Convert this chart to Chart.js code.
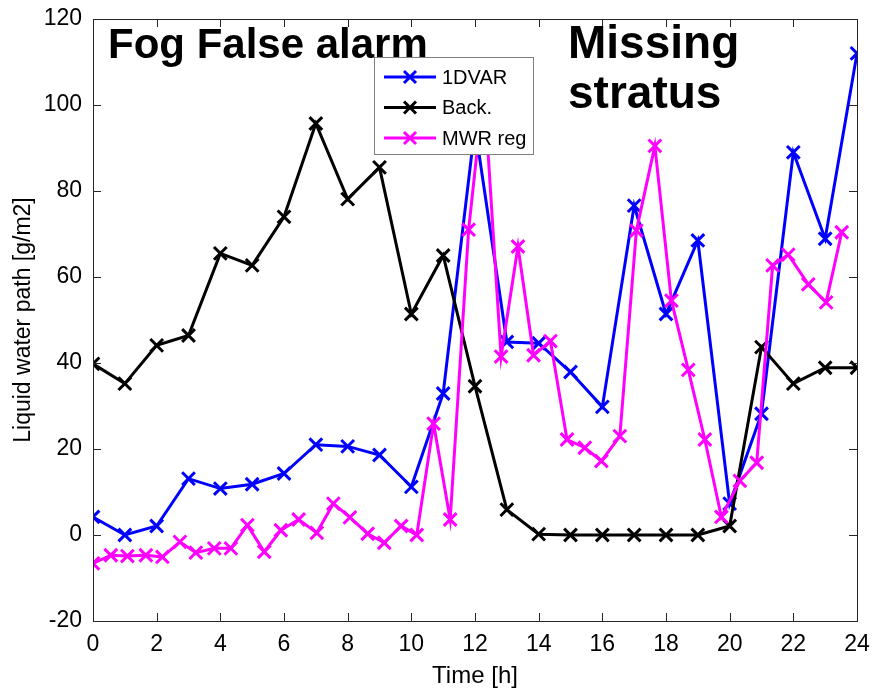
<!DOCTYPE html>
<html>
<head>
<meta charset="utf-8">
<script src="https://cdn.jsdelivr.net/npm/chart.js@4.4.0/dist/chart.umd.min.js"></script>
<style>
html,body{margin:0;padding:0;background:#fff;}
#wrap{width:872px;height:692px;position:relative;}
</style>
</head>
<body>
<div id="wrap"><canvas id="c" width="872" height="692"></canvas></div>
<script>
// ---- data ----
const hours = [0,1,2,3,4,5,6,7,8,9,10,11,12,13,14,15,16,17,18,19,20,21,22,23,24];
const var1D = [4.2,0,2.1,13.1,10.8,11.8,14.3,21.0,20.6,18.6,11.2,32.9,95,44.9,44.6,37.9,29.8,76.6,51.4,68.5,7.3,28.2,89.0,68.9,112.0];
const backg = [39.8,35.2,44.1,46.4,65.5,62.7,74.0,95.7,78.1,85.5,51.4,65.0,34.6,5.9,0.2,0,0,0,0,0,2.1,43.7,35.2,38.9,38.9];
const mwrTimes = [0,0.56,1.08,1.66,2.18,2.73,3.23,3.81,4.33,4.85,5.38,5.9,6.46,7.03,7.55,8.07,8.63,9.15,9.68,10.17,10.7,11.22,11.8,12.28,12.82,13.35,13.84,14.37,14.89,15.45,15.97,16.55,17.07,17.65,18.17,18.7,19.22,19.74,20.32,20.85,21.35,21.84,22.47,23.03,23.52];
const mwrReg = [-6.6,-4.7,-4.9,-4.7,-5.1,-1.6,-4.1,-3.1,-3.1,2.3,-3.9,1.1,3.6,0.5,7.3,4.1,0.3,-1.8,2.1,0,25.9,3.6,71.0,104,41.5,67.1,41.8,45.1,22.2,20.3,17.2,23.0,70.8,90.5,54.5,38.4,22.2,4.2,12.6,16.8,62.7,65.2,58.3,54.1,70.4];
const seriesNames = ['1DVAR','Back.','MWR reg'];
const seriesColors = ['#0000ff','#000000','#ff00ff'];
const xTicks = [0,2,4,6,8,10,12,14,16,18,20,22,24];
const yTicks = [-20,0,20,40,60,80,100,120];
const xTitle = 'Time [h]';
const yTitle = 'Liquid water path [g/m2]';
const notes = [['Fog False alarm'], ['Missing','stratus']];

function pts(xs, ys){ return xs.map((x,i)=>({x:x,y:ys[i]})); }

const frameAndTicks = {
  id:'frameAndTicks',
  afterDatasetsDraw(chart){
    const ctx = chart.ctx, a = chart.chartArea;
    const xs = chart.scales.x, ys = chart.scales.y;
    ctx.save();
    ctx.strokeStyle = '#262626';
    ctx.lineWidth = 1;
    const L = 8;
    ctx.beginPath();
    xTicks.forEach(v=>{
      const p = Math.round(xs.getPixelForValue(v))+0.5;
      ctx.moveTo(p,a.bottom); ctx.lineTo(p,a.bottom-L);
      ctx.moveTo(p,a.top); ctx.lineTo(p,a.top+L);
    });
    yTicks.forEach(v=>{
      const p = Math.round(ys.getPixelForValue(v))+0.5;
      ctx.moveTo(a.left,p); ctx.lineTo(a.left+L,p);
      ctx.moveTo(a.right,p); ctx.lineTo(a.right-L,p);
    });
    ctx.stroke();
    ctx.strokeStyle = '#262626';
    ctx.strokeRect(Math.round(a.left)+0.5, Math.round(a.top)+0.5, Math.round(a.right-a.left), Math.round(a.bottom-a.top));

    // annotations
    ctx.fillStyle = '#000';
    ctx.textBaseline = 'alphabetic';
    ctx.textAlign = 'left';
    ctx.font = 'bold 42px "Liberation Sans", Arial, sans-serif';
    ctx.fillText(notes[0][0], 108, 58);
    ctx.font = 'bold 46px "Liberation Sans", Arial, sans-serif';
    ctx.fillText(notes[1][0], 568, 58);
    ctx.fillText(notes[1][1], 568, 108);

    // legend
    const bx=374, by=57, bw=159, bh=97;
    ctx.fillStyle='#fff';
    ctx.fillRect(bx,by,bw,bh);
    ctx.strokeStyle='#7f7f7f';
    ctx.lineWidth=1;
    ctx.strokeRect(bx+0.5,by+0.5,bw,bh);
    const rows=[77,107.5,138];
    ctx.font = '20px "Liberation Sans", Arial, sans-serif';
    ctx.textBaseline='middle';
    seriesNames.forEach((n,i)=>{
      const y=rows[i];
      ctx.strokeStyle=seriesColors[i];
      ctx.lineWidth=3;
      ctx.beginPath(); ctx.moveTo(384,y); ctx.lineTo(436,y); ctx.stroke();
      const r=6;
      ctx.beginPath();
      ctx.moveTo(410-r,y-r); ctx.lineTo(410+r,y+r);
      ctx.moveTo(410-r,y+r); ctx.lineTo(410+r,y-r);
      ctx.stroke();
      ctx.fillStyle='#000';
      ctx.fillText(n, 442, y+1);
    });
    ctx.restore();
  }
};

const mk = (label, data, color) => ({
  label, data,
  borderColor: color, backgroundColor: color,
  borderWidth: 3,
  pointStyle: 'crossRot', pointRadius: 9, pointBorderWidth: 3,
  pointHoverRadius: 9,
  tension: 0, fill: false
});

new Chart(document.getElementById('c'), {
  type: 'line',
  data: {
    datasets: [
      mk(seriesNames[2], pts(mwrTimes, mwrReg), seriesColors[2]),
      mk(seriesNames[1], pts(hours, backg), seriesColors[1]),
      mk(seriesNames[0], pts(hours, var1D), seriesColors[0])
    ]
  },
  options: {
    responsive: false,
    animation: false,
    events: [],
    layout: { padding: { top: 19, right: 15, left: 0, bottom: 0 } },
    plugins: { legend: { display: false }, tooltip: { enabled: false } },
    scales: {
      x: {
        type: 'linear', min: 0, max: 24,
        afterBuildTicks: s => { s.ticks = xTicks.map(v=>({value:v})); },
        afterFit: s => { s.height = 71; s.paddingLeft = 0; s.paddingRight = 0; },
        grid: { display: false, drawTicks: false },
        border: { display: false },
        ticks: { color:'#000', padding: 10, maxRotation: 0, autoSkip: false,
                 font: { family: '"Liberation Sans", Arial, sans-serif', size: 23 } },
        title: { display: true, text: xTitle, color:'#000', padding: { top: 0, bottom: 1 },
                 font: { family: '"Liberation Sans", Arial, sans-serif', size: 24 } }
      },
      y: {
        type: 'linear', min: -20, max: 120,
        afterBuildTicks: s => { s.ticks = yTicks.map(v=>({value:v})); },
        afterFit: s => { s.width = 93; s.paddingTop = 0; s.paddingBottom = 0; },
        grid: { display: false, drawTicks: false },
        border: { display: false },
        ticks: { color:'#000', padding: 11, autoSkip: false,
                 font: { family: '"Liberation Sans", Arial, sans-serif', size: 23 } },
        title: { display: true, text: yTitle, color:'#000', padding: { top: 10, bottom: 0 },
                 font: { family: '"Liberation Sans", Arial, sans-serif', size: 23 } }
      }
    }
  },
  plugins: [frameAndTicks]
});
</script>
</body>
</html>
